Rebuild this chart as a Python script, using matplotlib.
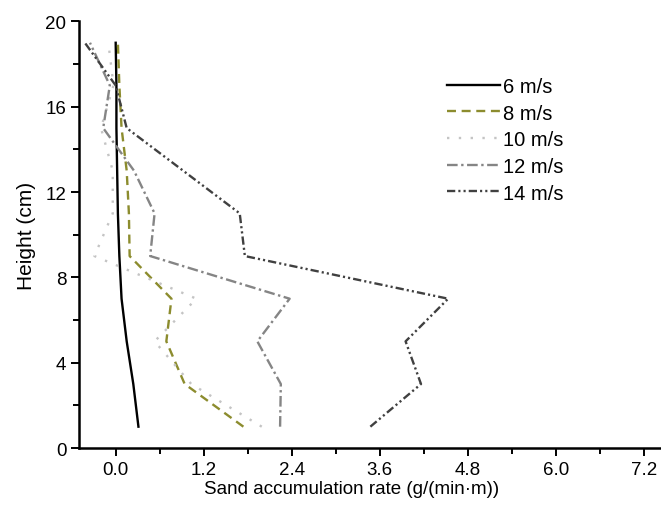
import matplotlib.pyplot as plt
from matplotlib.ticker import MultipleLocator

plt.rcParams['font.family'] = ['Liberation Sans', 'DejaVu Sans']

# Sampling heights (cm) and sand accumulation rate (g/(min·m)) per wind speed
height = [1, 3, 5, 7, 9, 11, 13, 15, 17, 19]
rate_6 = [0.31, 0.24, 0.15, 0.08, 0.05, 0.03, 0.02, 0.01, 0.01, 0.0]
rate_8 = [1.74, 0.94, 0.69, 0.76, 0.19, 0.18, 0.15, 0.08, 0.05, 0.03]
rate_10 = [1.99, 1.03, 0.53, 1.10, -0.29, -0.04, -0.04, -0.20, -0.03, -0.10]
rate_12 = [2.24, 2.25, 1.93, 2.37, 0.47, 0.53, 0.25, -0.17, -0.08, -0.35]
rate_14 = [3.47, 4.16, 3.95, 4.53, 1.76, 1.69, 0.92, 0.15, 0.0, -0.42]
labels = ['6 m/s', '8 m/s', '10 m/s', '12 m/s', '14 m/s']

fig = plt.figure(figsize=(6.61, 5.10), dpi=100)
ax = fig.add_axes([0.1195, 0.1196, 0.8805, 0.8364])

lw = 1.7
ax.plot(rate_6, height, color='black', lw=lw, label=labels[0])
ax.plot(rate_8, height, color='#8c8c2e', lw=lw, linestyle=(0, (3.8, 2.4)), label=labels[1])
ax.plot(rate_10, height, color='#c4c4c4', lw=lw, linestyle=(0, (1, 4)), label=labels[2])
ax.plot(rate_12, height, color='#858585', lw=lw, linestyle=(0, (4.5, 1.5, 1, 1.5)), label=labels[3])
ax.plot(rate_14, height, color='#404040', lw=lw,
        linestyle=(0, (3.5, 1.3, 0.9, 1.3, 0.9, 1.3)), label=labels[4])

ax.set_xlim(-0.5, 7.43)
ax.set_ylim(0, 20)
ax.xaxis.set_minor_locator(MultipleLocator(0.6))
ax.yaxis.set_major_locator(MultipleLocator(4))
ax.yaxis.set_minor_locator(MultipleLocator(2))
ax.set_xticks([0.0, 1.2, 2.4, 3.6, 4.8, 6.0, 7.2])
ax.set_xticklabels(['0.0', '1.2', '2.4', '3.6', '4.8', '6.0', '7.2'])

for side in ['top', 'right']:
    ax.spines[side].set_visible(False)
for side in ['left', 'bottom']:
    ax.spines[side].set_linewidth(1.8)
ax.tick_params(which='major', length=6, width=1.4, labelsize=13.5, pad=3)
ax.tick_params(which='minor', length=4, width=1.4)

ax.set_xlabel('Sand accumulation rate (g/(min·m))', fontsize=13.5)
ax.xaxis.set_label_coords(0.469, -0.075)
ax.set_ylabel('Height (cm)', fontsize=15, labelpad=7)

ax.legend(loc='upper left', bbox_to_anchor=(0.632, 0.87), frameon=False, fontsize=14.5,
          borderaxespad=0, borderpad=0, handlelength=2.65, handletextpad=0.15,
          labelspacing=0.38)

plt.savefig('out.png', dpi=100)
